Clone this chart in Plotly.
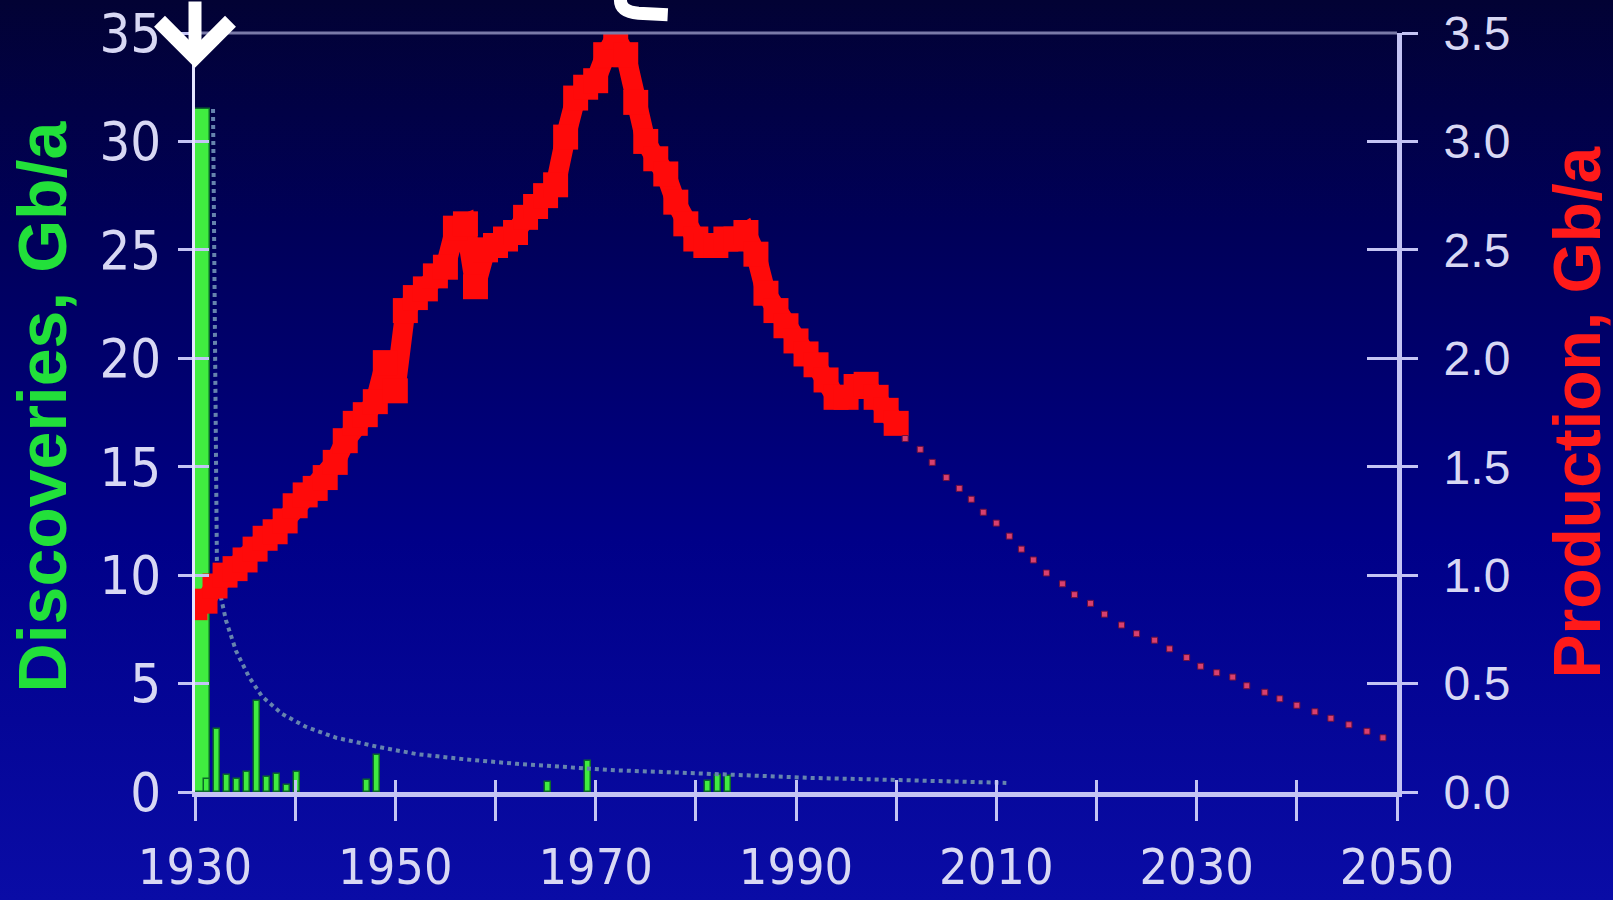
import base64
import plotly.graph_objects as go

# ---------------- data ----------------
prod_years = list(range(1930, 2001))
prod_values = [0.85, 0.88, 0.95, 1.00, 1.03, 1.07, 1.12, 1.17, 1.20, 1.25,
               1.32, 1.37, 1.40, 1.45, 1.52, 1.62, 1.70, 1.74, 1.80, 1.98,
               1.85, 2.22, 2.28, 2.32, 2.38, 2.42, 2.60, 2.62, 2.33, 2.50,
               2.52, 2.55, 2.58, 2.65, 2.70, 2.75, 2.80, 3.02, 3.20, 3.25,
               3.28, 3.40, 3.48, 3.40, 3.18, 3.00, 2.92, 2.85, 2.72, 2.62,
               2.55, 2.52, 2.52, 2.55, 2.55, 2.58, 2.48, 2.30, 2.22, 2.15,
               2.08, 2.02, 1.97, 1.90, 1.82, 1.82, 1.87, 1.88, 1.82, 1.76,
               1.70]

forecast_years = [2000.9, 2002.4, 2003.6, 2005.0, 2006.3, 2007.5, 2008.7, 2010.0,
                  2011.3, 2012.5, 2013.7, 2015.0, 2016.6, 2017.8, 2019.4, 2020.8,
                  2022.5, 2024.0, 2025.8, 2027.3, 2029.0, 2030.4, 2032.0, 2033.6,
                  2035.0, 2036.8, 2038.3, 2040.0, 2041.8, 2043.4, 2045.2, 2047.0,
                  2048.6]
forecast_values = [1.63, 1.58, 1.52, 1.45, 1.40, 1.35, 1.29, 1.24,
                   1.18, 1.12, 1.07, 1.01, 0.96, 0.91, 0.87, 0.82,
                   0.77, 0.73, 0.70, 0.66, 0.62, 0.58, 0.55, 0.53,
                   0.49, 0.46, 0.43, 0.40, 0.37, 0.34, 0.31, 0.28,
                   0.25]

disc_years = [1930, 1931, 1932, 1933, 1934, 1935, 1936, 1937, 1938, 1939,
              1940, 1947, 1948, 1965, 1969, 1981, 1982, 1983]
disc_values = [31.5, 0.6, 2.9, 0.8, 0.6, 0.9, 4.2, 0.7, 0.85, 0.3,
               0.9, 0.55, 1.7, 0.45, 1.45, 0.5, 0.8, 0.75]

avg_years = [1931.8, 1932.2, 1933.1, 1934.1, 1935.4, 1936.7, 1938.7, 1941.1,
             1944.1, 1948.1, 1952.1, 1957.1, 1962.1, 1967.7, 1972.0, 1978.0,
             1982.6, 1991.5, 2000.4, 2009.4, 2011.0]
avg_values = [31.5, 9.8, 7.9, 6.5, 5.3, 4.4, 3.6, 3.0,
              2.5, 2.1, 1.75, 1.5, 1.3, 1.12, 1.0, 0.9,
              0.8, 0.65, 0.55, 0.45, 0.42]

x_tick_vals = list(range(1930, 2051, 10))
x_tick_text = ["1930", "", "1950", "", "1970", "", "1990", "", "2010", "", "2030", "", "2050"]
left_tick_vals = [0, 5, 10, 15, 20, 25, 30, 35]
right_tick_vals = [0.0, 0.5, 1.0, 1.5, 2.0, 2.5, 3.0, 3.5]
right_tick_text = ["0.0", "0.5", "1.0", "1.5", "2.0", "2.5", "3.0", "3.5"]

# ---------------- styling ----------------
W, H = 1613, 900
ML, MR, MT, MB = 195, 216, 33, 108
PW, PH = W - ML - MR, H - MT - MB

TICK_COL = "#d8d8f4"
AXIS_COL = "#c4c4f4"
NARROW = "Liberation Sans Narrow, DejaVu Sans Condensed, Arial Narrow, sans-serif"
SANS = "Liberation Sans, Arial, sans-serif"

bar_widths = [1.6] + [0.6] * (len(disc_years) - 1)

svg = f'''<svg xmlns="http://www.w3.org/2000/svg" width="{W}" height="{H}" viewBox="0 0 {W} {H}" preserveAspectRatio="none">
<defs><linearGradient id="g" x1="0" y1="0" x2="0" y2="1">
<stop offset="0" stop-color="#020234"/>
<stop offset="0.25" stop-color="#000058"/>
<stop offset="0.6" stop-color="#000088"/>
<stop offset="1" stop-color="#0a0ca6"/>
</linearGradient></defs>
<rect width="{W}" height="{H}" fill="url(#g)"/></svg>'''
bg_src = "data:image/svg+xml;base64," + base64.b64encode(svg.encode()).decode()

fig = go.Figure()

fig.add_trace(go.Bar(
    x=disc_years, y=disc_values, width=bar_widths, offset=-0.1,
    marker=dict(color="#40ec40", line=dict(color="#0b6a2a", width=1.5)),
    name="Discoveries", yaxis="y", hoverinfo="x+y"))

fig.add_trace(go.Scatter(
    x=avg_years, y=avg_values, mode="lines",
    line=dict(color="#6684ae", width=4, dash="dot"),
    name="Average discovery", yaxis="y"))

fig.add_trace(go.Scatter(
    x=prod_years, y=prod_values, mode="lines+markers",
    line=dict(color="#ff0a0a", width=20),
    marker=dict(symbol="square", size=25, color="#ff0a0a", line=dict(width=0)),
    name="Production", yaxis="y2"))

fig.add_trace(go.Scatter(
    x=forecast_years, y=forecast_values, mode="markers",
    marker=dict(symbol="square", size=6, color="#d8406e", line=dict(color="#6a1040", width=1)),
    name="Forecast", yaxis="y2"))

# empty helper traces so the overlay tick axes are drawn (tick marks crossing the axis lines)
fig.add_trace(go.Scatter(x=[None], y=[None], xaxis="x2", yaxis="y", hoverinfo="skip", showlegend=False))
fig.add_trace(go.Scatter(x=[None], y=[None], xaxis="x", yaxis="y3", hoverinfo="skip", showlegend=False))
fig.add_trace(go.Scatter(x=[None], y=[None], xaxis="x", yaxis="y4", hoverinfo="skip", showlegend=False))

common = dict(showgrid=False, zeroline=False, automargin=False)

fig.update_layout(
    width=W, height=H,
    margin=dict(l=ML, r=MR, t=MT, b=MB, autoexpand=False),
    paper_bgcolor="#00007a",
    plot_bgcolor="rgba(0,0,0,0)",
    showlegend=False,
    bargap=0,
    images=[dict(source=bg_src, xref="paper", yref="paper",
                 x=-ML / PW, y=1 + MT / PH, sizex=W / PW, sizey=H / PH,
                 xanchor="left", yanchor="top", sizing="stretch", layer="below")],
    xaxis=dict(range=[1930, 2050], tickvals=x_tick_vals, ticktext=x_tick_text,
               ticks="outside", ticklen=24, tickwidth=3, tickcolor=AXIS_COL,
               showline=True, linecolor=AXIS_COL, linewidth=5,
               ticklabelstandoff=3,
               tickfont=dict(family=NARROW, size=50, color=TICK_COL), **common),
    xaxis2=dict(range=[1930, 2050], overlaying="x", anchor="y", side="bottom",
                tickvals=x_tick_vals, ticks="inside", ticklen=12, tickwidth=3,
                tickcolor=AXIS_COL, showticklabels=False, showline=False, **common),
    yaxis=dict(range=[0, 35], tickvals=left_tick_vals,
               ticks="outside", ticklen=14, tickwidth=3, tickcolor=AXIS_COL,
               showline=True, linecolor="#e6e6ff", linewidth=3,
               ticklabelstandoff=6,
               tickfont=dict(family=NARROW, size=54, color=TICK_COL), **common),
    yaxis2=dict(range=[0, 3.5], overlaying="y", side="right", anchor="x",
                tickvals=right_tick_vals, ticktext=right_tick_text,
                ticks="outside", ticklen=16, tickwidth=3, tickcolor=AXIS_COL,
                showline=True, linecolor=AXIS_COL, linewidth=5,
                ticklabelstandoff=16,
                tickfont=dict(family=SANS, size=48, color=TICK_COL), **common),
    yaxis3=dict(range=[0, 35], overlaying="y", side="right", anchor="x",
                tickvals=left_tick_vals, ticks="inside", ticklen=30, tickwidth=3,
                tickcolor=AXIS_COL, showticklabels=False, showline=False, **common),
    yaxis4=dict(range=[0, 35], overlaying="y", side="left", anchor="x",
                tickvals=left_tick_vals, ticks="inside", ticklen=14, tickwidth=3,
                tickcolor=AXIS_COL, showticklabels=False, showline=False, **common),
    shapes=[
        dict(type="line", xref="paper", yref="paper", x0=0, x1=1, y0=1, y1=1,
             line=dict(color="#7a7aa8", width=3), layer="above"),
        dict(type="path", xref="paper", yref="paper",
             path="M 0.3540,1.045 Q 0.3530,1.028 0.3690,1.026 L 0.3933,1.024",
             line=dict(color="white", width=13)),
    ],
    annotations=[
        dict(text="Discoveries, Gb/a", xref="paper", yref="paper",
             x=(42 - ML) / PW, y=0.508, textangle=-90, showarrow=False,
             xanchor="center", yanchor="middle",
             font=dict(family=SANS, size=68, color="#22e03a", weight="bold")),
        dict(text="Production, Gb/a", xref="paper", yref="paper",
             x=(1576 - ML) / PW, y=0.5, textangle=-90, showarrow=False,
             xanchor="center", yanchor="middle",
             font=dict(family=SANS, size=66, color="#ff1a1a", weight="bold")),
        dict(text="", x=1930, y=33.4, xref="x", yref="y",
             showarrow=True, ax=0, ay=-80, arrowhead=4, arrowwidth=13,
             arrowsize=1.05, arrowcolor="white"),
    ],
)

fig.write_html("out.html",
               config={"displayModeBar": False},
               post_script="document.body.style.margin='0';document.body.style.overflow='hidden';")
